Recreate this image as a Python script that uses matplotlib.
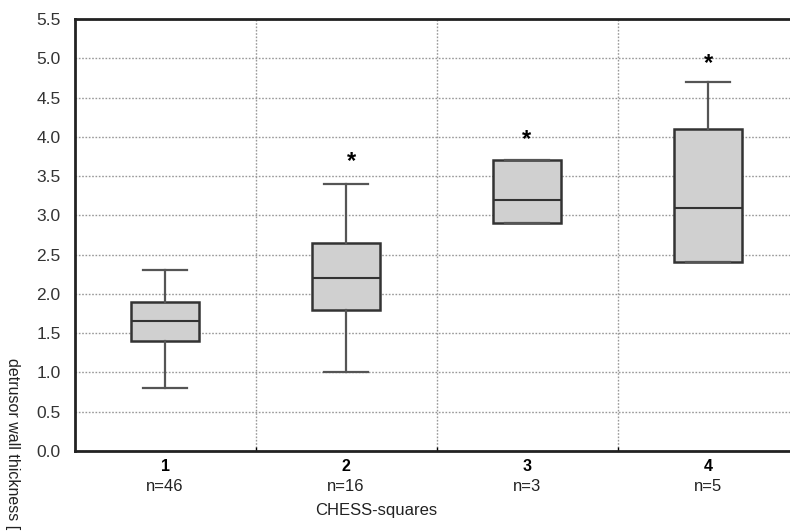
import matplotlib
matplotlib.use("Agg")
import matplotlib.pyplot as plt
from matplotlib.ticker import FixedLocator
import matplotlib.font_manager as fm

# ---- data ----
categories = ["1", "2", "3", "4"]
counts = ["n=46", "n=16", "n=3", "n=5"]
whisker_low = [0.8, 1.0, 2.9, 2.4]
q1 = [1.4, 1.8, 2.9, 2.4]
median = [1.65, 2.2, 3.2, 3.1]
q3 = [1.9, 2.65, 3.7, 4.1]
whisker_high = [2.3, 3.4, 3.7, 4.7]
star_groups = [2, 3, 4]
star_y = [3.72, 4.0, 4.97]
y_ticks = [0.0, 0.5, 1.0, 1.5, 2.0, 2.5, 3.0, 3.5, 4.0, 4.5, 5.0, 5.5]
ylabel = "detrusor wall thickness [mm]"
xlabel = "CHESS-squares"

names = {f.name for f in fm.fontManager.ttflist}
narrow = "Liberation Sans Narrow" if "Liberation Sans Narrow" in names else "Liberation Sans"
plt.rcParams["font.family"] = ["Liberation Sans", "DejaVu Sans"]

fig = plt.figure(figsize=(7.9, 5.31), dpi=100)
ax = fig.add_axes([74.5 / 790, 80 / 531, 724 / 790, 432 / 531])

stats = []
for i in range(len(categories)):
    stats.append(dict(med=median[i], q1=q1[i], q3=q3[i],
                      whislo=whisker_low[i], whishi=whisker_high[i], fliers=[]))
positions = list(range(1, len(categories) + 1))
ax.bxp(stats, positions=positions, widths=0.38, patch_artist=True, showfliers=False,
       boxprops=dict(facecolor="#d0d0d0", edgecolor="#333333", linewidth=1.8),
       medianprops=dict(color="#333333", linewidth=1.5),
       whiskerprops=dict(color="#555555", linewidth=1.6),
       capprops=dict(color="#555555", linewidth=1.6),
       capwidths=0.24, zorder=3)

for g, y in zip(star_groups, star_y):
    ax.text(g + (0.03 if g == 2 else 0), y, "*", ha="center", va="center_baseline",
            fontsize=17, fontweight="bold", color="black", zorder=4,
            transform=ax.transData)

ax.set_xlim(0.5, 4.5)
ax.set_ylim(0, 5.5)
ax.set_yticks(y_ticks)
ax.set_yticklabels([f"{v:.1f}" for v in y_ticks], fontsize=12.5)
ax.xaxis.set_major_locator(FixedLocator(positions))
ax.set_xticklabels(categories, fontsize=11.5, fontweight="bold", family=narrow)
ax.xaxis.set_minor_locator(FixedLocator([1.5, 2.5, 3.5]))
ax.tick_params(axis="x", which="major", length=0, pad=6)
ax.tick_params(axis="x", which="minor", length=3, width=1, direction="in", color="black")
ax.tick_params(axis="y", which="major", length=0, pad=10, labelcolor="#333333")

ax.grid(axis="y", which="major", linestyle=(0, (1.2, 1.2)), color="#999999", linewidth=1)
ax.grid(axis="x", which="minor", linestyle=(0, (1.2, 1.2)), color="#999999", linewidth=1)
ax.grid(axis="x", which="major", visible=False)
ax.set_axisbelow(True)

for s in ["left", "bottom", "top"]:
    ax.spines[s].set_linewidth(2)
    ax.spines[s].set_color("#222222")
ax.spines["right"].set_visible(False)

for p, c in zip(positions, counts):
    ax.annotate(c, xy=(p, 0), xycoords=("data", "axes fraction"), xytext=(0, -20),
                textcoords="offset points", ha="center", va="top", fontsize=12, family=narrow,
                color="#222222")

fig.text(376 / 790, 1 - 511 / 531, xlabel, ha="center", va="center", fontsize=12, family=narrow,
         color="#222222")
fig.text(12 / 790, 1 - 358 / 531, ylabel, ha="center", va="top", rotation=270, fontsize=11.5,
         family=narrow, color="#222222")

fig.savefig("out.png", dpi=100)
